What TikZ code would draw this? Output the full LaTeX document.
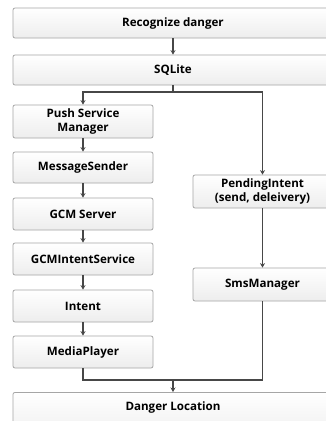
\documentclass[tikz,border=0pt]{standalone}
\usepackage{fontspec}
\setmainfont{Open Sans}
\usetikzlibrary{arrows.meta}
\begin{document}
\begin{tikzpicture}[x=1pt,y=-1pt,
  box/.style={draw=gray!70, line width=0.8pt, rounded corners=2pt,
    top color=white, bottom color=gray!14, font=\bfseries\fontsize{11.6}{13.5}\selectfont,
    align=center, inner sep=0pt},
  wide/.style={box, minimum width=320pt},
  lbox/.style={box, minimum width=140pt, minimum height=32pt},
  rbox/.style={box, minimum width=139pt, minimum height=33pt},
  conn/.style={draw=black!72, line width=1.5pt},
  arr/.style={conn, -{Stealth[length=4.5pt,width=5pt]}}]
\useasboundingbox (0,0) rectangle (326,421);
\clip (0,0) rectangle (326,421);
\fill[white] (0,0) rectangle (326,421);
\node[wide, minimum height=30pt] (rec) at (173,23) {Recognize danger};
\node[wide, minimum height=30pt] (sql) at (173,70) {SQLite};
\node[lbox, minimum height=33pt] (psm) at (83,121.5) {Push Service\\Manager};
\node[lbox, minimum height=31pt] (ms) at (83,167.5) {MessageSender};
\node[lbox] (gcm) at (83,214) {GCM Server};
\node[lbox] (gis) at (83,259) {GCMIntentService};
\node[lbox] (int) at (83,306) {Intent};
\node[lbox] (mp) at (83,352) {MediaPlayer};
\node[rbox] (pi) at (262.5,191.5) {PendingIntent\\(send, deleivery)};
\node[rbox] (sms) at (262.5,284.5) {SmsManager};
\node[wide, minimum height=50pt, anchor=north] (dl) at (173,392) {};
\node[font=\bfseries\fontsize{11.6}{13.5}\selectfont] (dlt) at (173,407) {Danger Location};
\coordinate (split) at (173,92);
\coordinate (join) at (173,380);
\draw[arr] (rec.south) -- (sql.north);
\draw[conn] (sql.south) -- (split);
\draw[arr] (split) -| (psm.north);
\draw[arr] (split) -| (pi.north);
\draw[arr] (psm) -- (ms);
\draw[arr] (ms) -- (gcm);
\draw[arr] (gcm) -- (gis);
\draw[arr] (gis) -- (int);
\draw[arr] (int) -- (mp);
\draw[arr] (pi) -- (sms);
\draw[conn] (mp.south) |- (join) -| (sms.south);
\draw[arr] (join) -- (dl.north);
\end{tikzpicture}
\end{document}
